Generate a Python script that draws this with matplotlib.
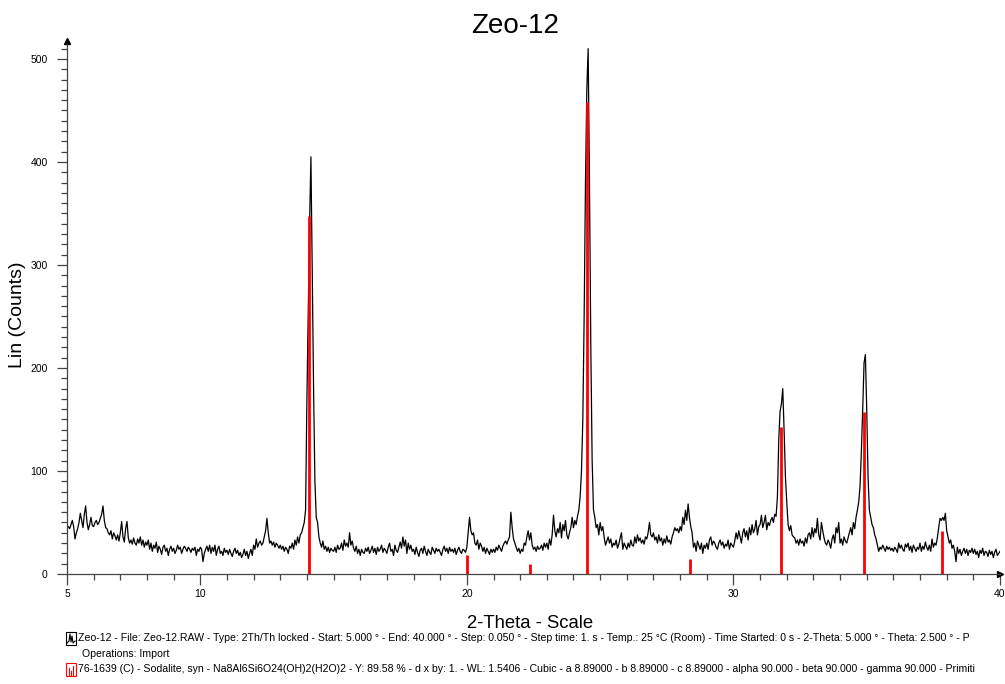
import numpy as np
import matplotlib
matplotlib.use("Agg")
from matplotlib import pyplot as plt
from matplotlib.patches import Rectangle
from matplotlib.lines import Line2D

plt.rcParams['font.family'] = ['Liberation Sans', 'DejaVu Sans']

# scan: 5.000 -> 40.000 deg, step 0.050
start, end, step = 5.0, 40.0, 0.05

# Lin counts, one row per degree (20 steps each)
counts = [
    45, 46, 44, 48, 52, 46, 34, 40, 44, 50, 59, 52, 45, 58, 66, 50, 43, 48, 55, 47,   # 5
    46, 50, 52, 48, 50, 54, 58, 66, 52, 45, 44, 40, 38, 42, 34, 40, 37, 33, 38, 32,   # 6
    40, 51, 36, 31, 44, 51, 35, 30, 33, 29, 35, 30, 28, 34, 30, 36, 28, 33, 26, 31,   # 7
    28, 33, 24, 30, 22, 28, 25, 31, 21, 27, 24, 19, 26, 28, 22, 25, 18, 24, 27, 22,   # 8
    25, 20, 23, 28, 24, 26, 20, 24, 27, 25, 22, 26, 24, 21, 25, 23, 26, 18, 24, 22,   # 9
    26, 24, 12, 20, 24, 27, 22, 28, 20, 26, 22, 28, 18, 24, 27, 20, 22, 18, 25, 21,   # 10
    23, 19, 24, 20, 17, 22, 25, 20, 23, 18, 21, 16, 19, 24, 18, 22, 15, 20, 24, 18,   # 11
    28, 24, 34, 26, 30, 32, 28, 30, 36, 42, 54, 40, 30, 32, 28, 31, 26, 30, 28, 25,   # 12
    28, 24, 27, 22, 26, 24, 20, 27, 25, 30, 24, 33, 28, 36, 30, 38, 40, 45, 50, 62,   # 13
    170, 255, 340, 405, 290, 180, 90, 55, 50, 36, 30, 26, 32, 24, 27, 22, 26, 21, 25, 23,  # 14
    22, 26, 21, 28, 24, 25, 30, 23, 33, 27, 30, 26, 40, 28, 32, 25, 22, 27, 20, 24,   # 15
    18, 24, 21, 20, 25, 22, 26, 20, 23, 27, 21, 25, 19, 26, 22, 24, 28, 21, 25, 23,   # 16
    20, 26, 30, 22, 24, 18, 28, 23, 21, 26, 31, 25, 36, 27, 33, 20, 30, 24, 28, 22,   # 17
    24, 19, 26, 21, 17, 23, 25, 20, 27, 22, 18, 24, 21, 19, 26, 23, 20, 25, 22, 24,   # 18
    21, 18, 24, 27, 22, 25, 20, 26, 22, 24, 21, 25, 19, 23, 26, 22, 20, 24, 23, 21,   # 19
    26, 40, 55, 42, 38, 40, 30, 28, 33, 24, 30, 27, 22, 26, 20, 25, 22, 19, 24, 21,   # 20
    24, 21, 26, 23, 28, 25, 22, 27, 30, 32, 29, 33, 36, 60, 45, 34, 30, 26, 22, 25,   # 21
    20, 24, 22, 30, 28, 36, 42, 33, 40, 28, 24, 26, 22, 27, 24, 25, 28, 23, 30, 26,   # 22
    30, 24, 34, 28, 38, 57, 42, 36, 44, 40, 50, 35, 48, 42, 52, 38, 34, 40, 45, 55,   # 23
    45, 52, 48, 56, 62, 75, 100, 150, 250, 380, 470, 510, 380, 220, 110, 62, 55, 45, 48, 38,  # 24
    50, 42, 46, 36, 28, 32, 36, 30, 34, 26, 30, 28, 33, 25, 29, 35, 40, 24, 30, 27,   # 25
    24, 30, 26, 33, 28, 27, 36, 30, 38, 32, 35, 30, 33, 29, 36, 34, 40, 50, 38, 36,   # 26
    40, 33, 36, 30, 38, 32, 35, 28, 34, 30, 37, 31, 33, 29, 36, 40, 45, 42, 44, 40,   # 27
    46, 42, 55, 48, 62, 52, 68, 55, 46, 40, 26, 30, 22, 32, 28, 24, 30, 20, 28, 25,   # 28
    30, 24, 33, 36, 28, 32, 30, 26, 24, 30, 33, 28, 31, 25, 29, 27, 33, 24, 30, 28,   # 29
    26, 32, 40, 34, 42, 36, 30, 40, 44, 36, 42, 33, 45, 38, 48, 40, 44, 52, 38, 46,   # 30
    48, 57, 45, 50, 57, 43, 50, 47, 52, 55, 50, 58, 56, 75, 130, 158, 165, 180, 140, 95,  # 31
    70, 48, 42, 47, 38, 36, 35, 30, 33, 28, 34, 30, 32, 27, 35, 30, 38, 40, 34, 45,   # 32
    36, 44, 40, 54, 38, 33, 50, 42, 35, 30, 28, 33, 30, 25, 34, 38, 30, 45, 40, 50,   # 33
    30, 34, 28, 36, 32, 30, 35, 40, 45, 38, 50, 44, 55, 62, 70, 85, 120, 160, 205, 213,  # 34
    160, 95, 62, 55, 48, 45, 38, 34, 28, 22, 26, 24, 28, 25, 22, 27, 24, 26, 23, 25,  # 35
    22, 26, 24, 21, 30, 25, 28, 24, 22, 29, 26, 30, 23, 27, 21, 28, 25, 22, 26, 24,   # 36
    30, 22, 27, 24, 31, 26, 23, 28, 22, 34, 26, 30, 28, 35, 45, 54, 52, 55, 52, 59,   # 37
    42, 36, 30, 33, 25, 28, 22, 12, 26, 20, 24, 18, 22, 25, 20, 24, 18, 23, 21, 25,   # 38
    20, 24, 19, 22, 16, 23, 20, 25, 18, 22, 21, 17, 23, 19, 22, 16, 21, 24, 18, 20,   # 39
    22,
]
two_theta = np.linspace(start, end, len(counts))

# 76-1639 Sodalite reference sticks
stick_pos = [14.08, 20.02, 22.38, 24.50, 28.37, 31.78, 34.90, 37.82]
stick_int = [348, 18, 10, 458, 15, 143, 157, 42]

fig = plt.figure(figsize=(10.05, 6.84), dpi=100)
ax = fig.add_axes([67/1005, 110/684, 933/1005, 530.5/684])

ax.plot(two_theta, counts, color="black", lw=0.9)
ax.vlines(stick_pos, 0, stick_int, color="red", lw=2)

ax.set_xlim(5, 40)
ax.set_ylim(0, 515)

ax.spines['top'].set_visible(False)
ax.spines['right'].set_visible(False)
for s in ('left', 'bottom'):
    ax.spines[s].set_color("#444444")
    ax.spines[s].set_linewidth(0.9)

ax.set_xticks([5, 10, 20, 30, 40])
ax.set_xticks(np.arange(5, 41, 1), minor=True)
ax.set_yticks(np.arange(0, 501, 100))
ax.set_yticks(np.arange(0, 511, 10), minor=True)
ax.tick_params(axis='x', which='major', length=8, width=0.9, color="#444444",
               labelsize=7.5, pad=3)
ax.tick_params(axis='x', which='minor', length=4, width=0.9, color="#444444")
ax.tick_params(axis='y', which='major', length=7, width=0.9, color="#444444",
               labelsize=7.5, pad=7)
ax.tick_params(axis='y', which='minor', length=4, width=0.9, color="#444444")

# arrow heads on the axes
ax.plot([0], [1.005], marker='^', color="black", ms=4, transform=ax.transAxes, clip_on=False)
ax.plot([1.0], [0], marker='>', color="black", ms=4, transform=ax.transAxes, clip_on=False)

fig.text(515/1005, 1 - 26/684, "Zeo-12", fontsize=20, ha='center', va='center')
fig.text(18/1005, 1 - 315/684, "Lin (Counts)", fontsize=14, rotation=90, ha='center', va='center')
fig.text(530/1005, 1 - 623/684, "2-Theta - Scale", fontsize=13.3, ha='center', va='center')

line1 = ("Zeo-12 - File: Zeo-12.RAW - Type: 2Th/Th locked - Start: 5.000 ° - End: 40.000 ° - "
         "Step: 0.050 ° - Step time: 1. s - Temp.: 25 °C (Room) - Time Started: 0 s - "
         "2-Theta: 5.000 ° - Theta: 2.500 ° - P")
line2 = "Operations: Import"
line3 = ("76-1639 (C) - Sodalite, syn - Na8Al6Si6O24(OH)2(H2O)2 - Y: 89.58 % - d x by: 1. - "
         "WL: 1.5406 - Cubic - a 8.89000 - b 8.89000 - c 8.89000 - alpha 90.000 - beta 90.000 - "
         "gamma 90.000 - Primiti")
fig.text(78/1005, 1 - 638/684, line1, fontsize=7.6, ha='left', va='center')
fig.text(82/1005, 1 - 654/684, line2, fontsize=7.6, ha='left', va='center')
fig.text(78/1005, 1 - 669/684, line3, fontsize=7.55, ha='left', va='center')

# legend icons
W, H = 1005, 684
fig.add_artist(Rectangle((66/W, 1 - 645/H), 10/W, 13/H, fill=False, ec="black", lw=0.8,
                         transform=fig.transFigure))
fig.add_artist(Line2D(np.array([67, 69, 70, 71, 72, 73, 75]) / W,
                      1 - np.array([643, 641, 634, 642, 636, 643, 641]) / H,
                      color="black", lw=0.8, transform=fig.transFigure))
fig.add_artist(Rectangle((66/W, 1 - 676/H), 10/W, 13/H, fill=False, ec="red", lw=0.8,
                         transform=fig.transFigure))
for xx, hh in [(69, 7), (71, 4), (73, 9)]:
    fig.add_artist(Line2D([xx/W, xx/W], [1 - 675/H, 1 - (675 - hh)/H], color="red", lw=0.8,
                          transform=fig.transFigure))

fig.savefig("out.png", dpi=100)
